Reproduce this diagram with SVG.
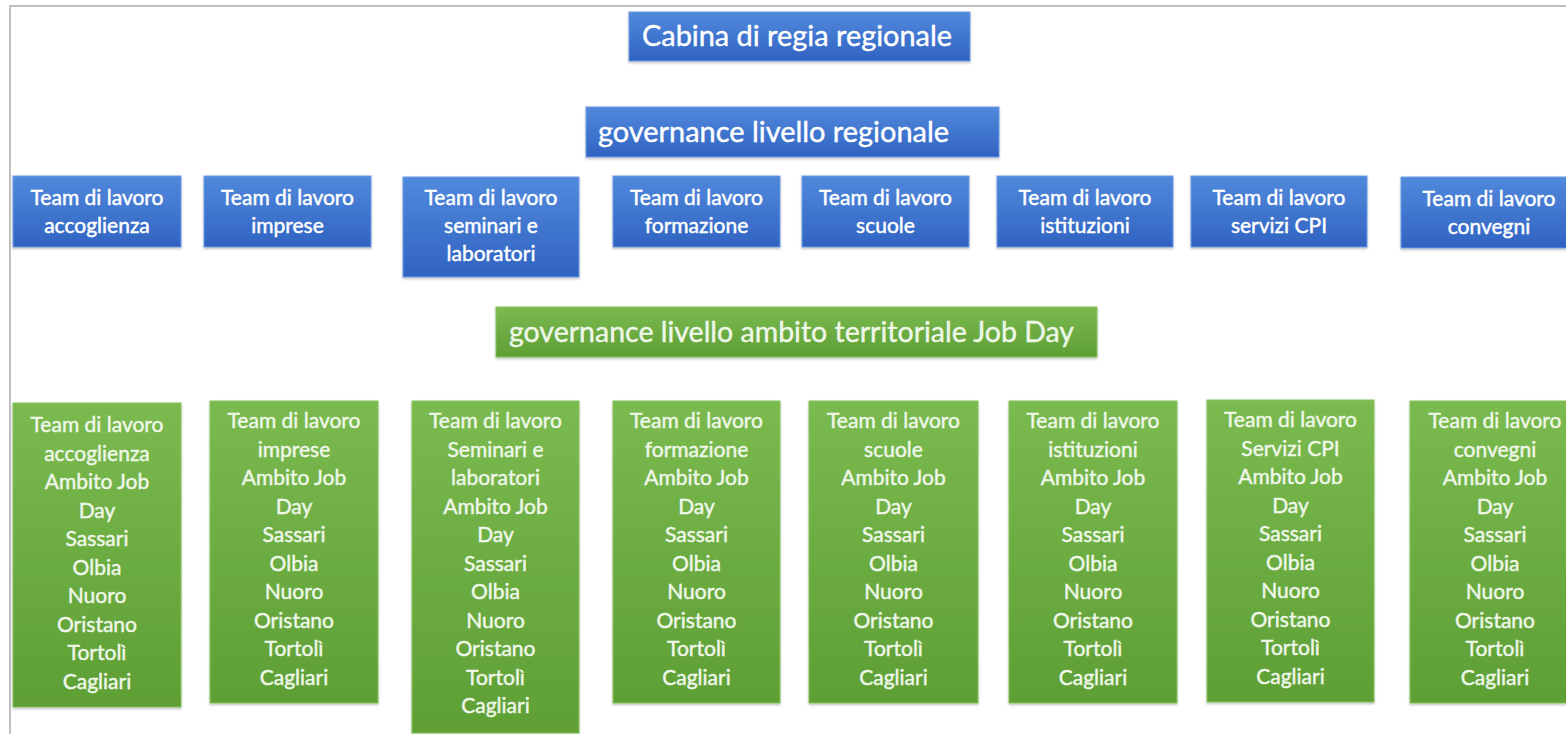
<svg xmlns="http://www.w3.org/2000/svg" width="1566" height="734" viewBox="0 0 1566 734">
<defs>
<linearGradient id="gBlue" x1="0" y1="0" x2="0" y2="1">
<stop offset="0" stop-color="#5189dc"/>
<stop offset="1" stop-color="#3063c2"/>
</linearGradient>
<linearGradient id="gGreen" x1="0" y1="0" x2="0" y2="1">
<stop offset="0" stop-color="#7aba4f"/>
<stop offset="1" stop-color="#5e9f35"/>
</linearGradient>
<filter id="sh" x="-5%" y="-5%" width="110%" height="115%">
<feDropShadow dx="0" dy="1.5" stdDeviation="1.2" flood-color="#000" flood-opacity="0.25"/>
</filter>
<style>
.blue{fill:url(#gBlue);stroke:#6f9be0;stroke-width:1;filter:url(#sh)}
.green{fill:url(#gGreen);stroke:#86c15e;stroke-width:1;filter:url(#sh)}
.tb{font-family:Lato,"Liberation Sans",sans-serif;font-size:21px;fill:#ffffff;stroke:#ffffff;stroke-width:0.45;text-anchor:middle}
.tg{font-family:Lato,"Liberation Sans",sans-serif;font-size:21px;fill:#eef7e8;stroke:#eef7e8;stroke-width:0.45;text-anchor:middle}
.title{font-family:Lato,"Liberation Sans",sans-serif;font-size:29px;fill:#ffffff;stroke:#ffffff;stroke-width:0.4}
.titleg{font-family:Lato,"Liberation Sans",sans-serif;font-size:29px;fill:#eef7e8;stroke:#eef7e8;stroke-width:0.4}
.frame{stroke:#c0c0c0;stroke-width:2;fill:none}
</style>
</defs>
<rect x="0" y="0" width="1566" height="734" fill="#ffffff"/>
<path class="frame" d="M10,734 V6 H1566"/>
<g id="connectors"/>
<g id="cabina">
<rect class="blue" x="629" y="12" width="341" height="49"/>
<text class="title" x="642" y="46" textLength="310" lengthAdjust="spacingAndGlyphs">Cabina di regia regionale</text>
</g>
<g id="gov-regionale">
<rect class="blue" x="586" y="107" width="413" height="50"/>
<text class="title" x="598" y="142" textLength="351" lengthAdjust="spacingAndGlyphs">governance livello regionale</text>
</g>
<g id="team-accoglienza">
<rect class="blue" x="13" y="176" width="168" height="71"/>
<text class="tb"><tspan x="97" y="205">Team di lavoro</tspan><tspan x="97" y="233">accoglienza</tspan></text>
</g>
<g id="team-imprese">
<rect class="blue" x="204" y="176" width="167" height="71"/>
<text class="tb"><tspan x="287.5" y="205">Team di lavoro</tspan><tspan x="287.5" y="233">imprese</tspan></text>
</g>
<g id="team-seminari">
<rect class="blue" x="403" y="177" width="176" height="100"/>
<text class="tb"><tspan x="491" y="205">Team di lavoro</tspan><tspan x="491" y="233">seminari e</tspan><tspan x="491" y="261">laboratori</tspan></text>
</g>
<g id="team-formazione">
<rect class="blue" x="613" y="176" width="167" height="71"/>
<text class="tb"><tspan x="696.5" y="205">Team di lavoro</tspan><tspan x="696.5" y="233">formazione</tspan></text>
</g>
<g id="team-scuole">
<rect class="blue" x="802" y="176" width="167" height="71"/>
<text class="tb"><tspan x="885.5" y="205">Team di lavoro</tspan><tspan x="885.5" y="233">scuole</tspan></text>
</g>
<g id="team-istituzioni">
<rect class="blue" x="997" y="176" width="176" height="71"/>
<text class="tb"><tspan x="1085" y="205">Team di lavoro</tspan><tspan x="1085" y="233">istituzioni</tspan></text>
</g>
<g id="team-servizi">
<rect class="blue" x="1191" y="176" width="176" height="71"/>
<text class="tb"><tspan x="1279" y="205">Team di lavoro</tspan><tspan x="1279" y="233">servizi CPI</tspan></text>
</g>
<g id="team-convegni">
<rect class="blue" x="1401" y="177" width="176" height="71"/>
<text class="tb"><tspan x="1489" y="206">Team di lavoro</tspan><tspan x="1489" y="234">convegni</tspan></text>
</g>
<g id="gov-ambito">
<rect class="green" x="496" y="307" width="601" height="50"/>
<text class="titleg" x="509" y="342" textLength="565" lengthAdjust="spacingAndGlyphs">governance livello ambito territoriale Job Day</text>
</g>
<g id="ambito-accoglienza">
<rect class="green" x="13" y="403" width="168" height="304"/>
<text class="tg"><tspan x="97" y="432">Team di lavoro</tspan><tspan x="97" dy="28.5">accoglienza</tspan><tspan x="97" dy="28.5">Ambito Job</tspan><tspan x="97" dy="28.5">Day</tspan><tspan x="97" dy="28.5">Sassari</tspan><tspan x="97" dy="28.5">Olbia</tspan><tspan x="97" dy="28.5">Nuoro</tspan><tspan x="97" dy="28.5">Oristano</tspan><tspan x="97" dy="28.5">Tortolì</tspan><tspan x="97" dy="28.5">Cagliari</tspan></text>
</g>
<g id="ambito-imprese">
<rect class="green" x="210" y="401" width="168" height="302"/>
<text class="tg"><tspan x="294" y="428">Team di lavoro</tspan><tspan x="294" dy="28.5">imprese</tspan><tspan x="294" dy="28.5">Ambito Job</tspan><tspan x="294" dy="28.5">Day</tspan><tspan x="294" dy="28.5">Sassari</tspan><tspan x="294" dy="28.5">Olbia</tspan><tspan x="294" dy="28.5">Nuoro</tspan><tspan x="294" dy="28.5">Oristano</tspan><tspan x="294" dy="28.5">Tortolì</tspan><tspan x="294" dy="28.5">Cagliari</tspan></text>
</g>
<g id="ambito-seminari">
<rect class="green" x="412" y="401" width="167" height="332"/>
<text class="tg"><tspan x="495.5" y="428">Team di lavoro</tspan><tspan x="495.5" dy="28.5">Seminari e</tspan><tspan x="495.5" dy="28.5">laboratori</tspan><tspan x="495.5" dy="28.5">Ambito Job</tspan><tspan x="495.5" dy="28.5">Day</tspan><tspan x="495.5" dy="28.5">Sassari</tspan><tspan x="495.5" dy="28.5">Olbia</tspan><tspan x="495.5" dy="28.5">Nuoro</tspan><tspan x="495.5" dy="28.5">Oristano</tspan><tspan x="495.5" dy="28.5">Tortolì</tspan><tspan x="495.5" dy="28.5">Cagliari</tspan></text>
</g>
<g id="ambito-formazione">
<rect class="green" x="613" y="401" width="167" height="302"/>
<text class="tg"><tspan x="696.5" y="428">Team di lavoro</tspan><tspan x="696.5" dy="28.5">formazione</tspan><tspan x="696.5" dy="28.5">Ambito Job</tspan><tspan x="696.5" dy="28.5">Day</tspan><tspan x="696.5" dy="28.5">Sassari</tspan><tspan x="696.5" dy="28.5">Olbia</tspan><tspan x="696.5" dy="28.5">Nuoro</tspan><tspan x="696.5" dy="28.5">Oristano</tspan><tspan x="696.5" dy="28.5">Tortolì</tspan><tspan x="696.5" dy="28.5">Cagliari</tspan></text>
</g>
<g id="ambito-scuole">
<rect class="green" x="809" y="401" width="169" height="302"/>
<text class="tg"><tspan x="893.5" y="428">Team di lavoro</tspan><tspan x="893.5" dy="28.5">scuole</tspan><tspan x="893.5" dy="28.5">Ambito Job</tspan><tspan x="893.5" dy="28.5">Day</tspan><tspan x="893.5" dy="28.5">Sassari</tspan><tspan x="893.5" dy="28.5">Olbia</tspan><tspan x="893.5" dy="28.5">Nuoro</tspan><tspan x="893.5" dy="28.5">Oristano</tspan><tspan x="893.5" dy="28.5">Tortolì</tspan><tspan x="893.5" dy="28.5">Cagliari</tspan></text>
</g>
<g id="ambito-istituzioni">
<rect class="green" x="1009" y="401" width="168" height="302"/>
<text class="tg"><tspan x="1093" y="428">Team di lavoro</tspan><tspan x="1093" dy="28.5">istituzioni</tspan><tspan x="1093" dy="28.5">Ambito Job</tspan><tspan x="1093" dy="28.5">Day</tspan><tspan x="1093" dy="28.5">Sassari</tspan><tspan x="1093" dy="28.5">Olbia</tspan><tspan x="1093" dy="28.5">Nuoro</tspan><tspan x="1093" dy="28.5">Oristano</tspan><tspan x="1093" dy="28.5">Tortolì</tspan><tspan x="1093" dy="28.5">Cagliari</tspan></text>
</g>
<g id="ambito-servizi">
<rect class="green" x="1207" y="400" width="167" height="302"/>
<text class="tg"><tspan x="1290.5" y="427">Team di lavoro</tspan><tspan x="1290.5" dy="28.5">Servizi CPI</tspan><tspan x="1290.5" dy="28.5">Ambito Job</tspan><tspan x="1290.5" dy="28.5">Day</tspan><tspan x="1290.5" dy="28.5">Sassari</tspan><tspan x="1290.5" dy="28.5">Olbia</tspan><tspan x="1290.5" dy="28.5">Nuoro</tspan><tspan x="1290.5" dy="28.5">Oristano</tspan><tspan x="1290.5" dy="28.5">Tortolì</tspan><tspan x="1290.5" dy="28.5">Cagliari</tspan></text>
</g>
<g id="ambito-convegni">
<rect class="green" x="1410" y="401" width="170" height="302"/>
<text class="tg"><tspan x="1495" y="428">Team di lavoro</tspan><tspan x="1495" dy="28.5">convegni</tspan><tspan x="1495" dy="28.5">Ambito Job</tspan><tspan x="1495" dy="28.5">Day</tspan><tspan x="1495" dy="28.5">Sassari</tspan><tspan x="1495" dy="28.5">Olbia</tspan><tspan x="1495" dy="28.5">Nuoro</tspan><tspan x="1495" dy="28.5">Oristano</tspan><tspan x="1495" dy="28.5">Tortolì</tspan><tspan x="1495" dy="28.5">Cagliari</tspan></text>
</g>
</svg>
